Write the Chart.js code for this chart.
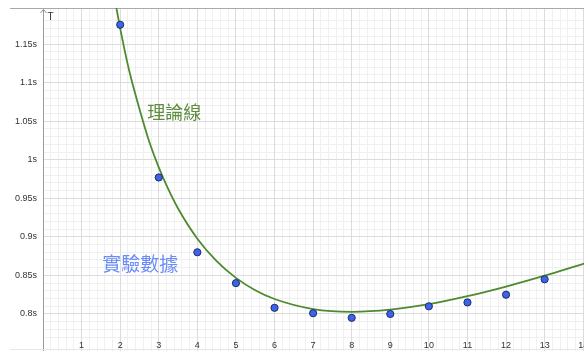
<!DOCTYPE html>
<html>
<head>
<meta charset="utf-8">
<script src="https://cdn.jsdelivr.net/npm/chart.js@4"></script>
<style>
  html, body { margin: 0; padding: 0; background: #ffffff; }
  canvas { display: block; }
</style>
</head>
<body>
<canvas id="c" width="584" height="351"></canvas>
<script>
// Measured pendulum periods (s) against pivot distance
const distances = [2, 3, 4, 5, 6, 7, 8, 9, 10, 11, 12, 13];
const periods = [1.175, 0.977, 0.880, 0.840, 0.808, 0.801, 0.795, 0.800, 0.810, 0.815, 0.825, 0.845];

// Theoretical curve, sampled along the distance axis
const curveX = [1.85, 1.9, 2, 2.1, 2.25, 2.5, 2.75, 3, 3.25, 3.5, 4, 4.5, 5, 5.5, 6, 7, 8, 9, 10, 11, 12, 13, 14, 14.1];
const curveT = [1.2117, 1.1973, 1.1703, 1.1456, 1.1120, 1.0658, 1.0239, 0.9901, 0.9614, 0.9368, 0.8976, 0.8685, 0.8468, 0.8308, 0.8194, 0.8064, 0.8028, 0.8056, 0.8128, 0.8231, 0.8356, 0.8497, 0.8650, 0.8665];

// Axis tick values
const xTickValues = [0, 1, 2, 3, 4, 5, 6, 7, 8, 9, 10, 11, 12, 13, 14];
const yTickValues = [0.8, 0.85, 0.9, 0.95, 1, 1.05, 1.1, 1.15];

// Text notes placed in data coordinates
const notes = [
  { text: '理論線', x: 3.40, y: 1.0618, color: '#5e8f3f', size: 18 },
  { text: '實驗數據', x: 2.52, y: 0.8656, color: '#6a8cf6', size: 19 }
];

const X_MIN = 0, X_MAX = 14.02, Y_MIN = 0.752, Y_MAX = 1.1967;

const pts = distances.map((d, i) => ({ x: d, y: periods[i] }));
const curve = curveX.map((d, i) => ({ x: d, y: curveT[i] }));

const decorPlugin = {
  id: 'decor',
  beforeDatasetsDraw(chart) {
    const { ctx, chartArea } = chart;
    ctx.save();
    // frame of the graphics view
    ctx.strokeStyle = '#a9a9a9';
    ctx.lineWidth = 1;
    ctx.beginPath();
    ctx.moveTo(10, chartArea.top + 0.5);
    ctx.lineTo(chart.width, chartArea.top + 0.5);
    ctx.stroke();
    ctx.strokeStyle = '#e6e6e6';
    ctx.beginPath();
    ctx.moveTo(10, chartArea.bottom - 1.5);
    ctx.lineTo(chart.width, chartArea.bottom - 1.5);
    ctx.stroke();
    ctx.restore();
  },
  afterDatasetsDraw(chart) {
    const { ctx, chartArea, scales } = chart;
    ctx.save();
    // arrow tip and name of the vertical axis
    const ax = Math.round(scales.x.getPixelForValue(0)) + 0.5;
    ctx.strokeStyle = '#8a8a8a';
    ctx.lineWidth = 1;
    ctx.beginPath();
    ctx.moveTo(ax - 3, chartArea.top + 5);
    ctx.lineTo(ax, chartArea.top + 1.5);
    ctx.lineTo(ax + 3, chartArea.top + 5);
    ctx.stroke();
    ctx.fillStyle = '#333333';
    ctx.font = '10px "Liberation Sans", Arial, sans-serif';
    ctx.textAlign = 'left';
    ctx.textBaseline = 'middle';
    ctx.fillText('T', ax + 4, chartArea.top + 9);
    // notes
    notes.forEach(n => {
      ctx.fillStyle = n.color;
      ctx.font = n.size + 'px "Noto Sans CJK TC", "Noto Sans CJK SC", sans-serif';
      ctx.textAlign = 'center';
      ctx.textBaseline = 'middle';
      ctx.fillText(n.text, scales.x.getPixelForValue(n.x), scales.y.getPixelForValue(n.y));
    });
    ctx.restore();
  }
};

const labelFont = { family: '"Liberation Sans", Arial, sans-serif', size: 9 };

new Chart(document.getElementById('c'), {
  type: 'scatter',
  data: {
    datasets: [
      {
        label: '實驗數據',
        data: pts,
        xAxisID: 'x', yAxisID: 'y',
        pointRadius: 3.6,
        pointBackgroundColor: '#3b64e8',
        pointBorderColor: '#1f2b6b',
        pointBorderWidth: 1,
        showLine: false
      },
      {
        label: '理論線',
        data: curve,
        xAxisID: 'x', yAxisID: 'y',
        showLine: true,
        pointRadius: 0,
        borderColor: '#4e8a30',
        borderWidth: 1.8,
        cubicInterpolationMode: 'monotone',
        fill: false
      }
    ]
  },
  options: {
    responsive: false,
    animation: false,
    layout: { autoPadding: false, padding: { top: 8, left: 0, right: 0, bottom: 0 } },
    plugins: { legend: { display: false }, tooltip: { enabled: false } },
    scales: {
      x: {
        type: 'linear', position: 'bottom',
        min: X_MIN, max: X_MAX,
        afterBuildTicks(s) { s.ticks = xTickValues.map(v => ({ value: v })); },
        ticks: {
          autoSkip: false, maxRotation: 0, mirror: true, padding: 0,
          color: '#333333', font: labelFont,
          callback: v => (v === 0 ? '' : String(v))
        },
        grid: { color: '#dcdcdc', lineWidth: 1, drawTicks: false },
        border: { display: false },
        afterFit(s) { s.height = 0; s.paddingLeft = 0; s.paddingRight = 0; }
      },
      y: {
        type: 'linear', position: 'left',
        min: Y_MIN, max: Y_MAX,
        afterBuildTicks(s) { s.ticks = yTickValues.map(v => ({ value: v })); },
        ticks: {
          autoSkip: false, padding: 6,
          color: '#333333', font: labelFont,
          callback: v => v + 's'
        },
        grid: { color: '#dcdcdc', lineWidth: 1, drawTicks: false },
        border: { display: true, color: '#9a9a9a', width: 1 },
        afterFit(s) { s.width = 43; s.paddingTop = 0; s.paddingBottom = 0; }
      },
      xm: {
        type: 'linear', axis: 'x', position: 'bottom',
        min: X_MIN, max: X_MAX,
        ticks: { display: false, stepSize: 0.2 },
        grid: { color: '#f0f0f0', lineWidth: 1, drawTicks: false, z: -2 },
        border: { display: false },
        afterFit(s) { s.height = 0; s.paddingLeft = 0; s.paddingRight = 0; }
      },
      ym: {
        type: 'linear', axis: 'y', position: 'left',
        min: Y_MIN, max: Y_MAX,
        ticks: { display: false, stepSize: 0.01 },
        grid: { color: '#f0f0f0', lineWidth: 1, drawTicks: false, z: -2 },
        border: { display: false },
        afterFit(s) { s.width = 0; s.paddingTop = 0; s.paddingBottom = 0; }
      }
    }
  },
  plugins: [decorPlugin]
});
</script>
</body>
</html>
